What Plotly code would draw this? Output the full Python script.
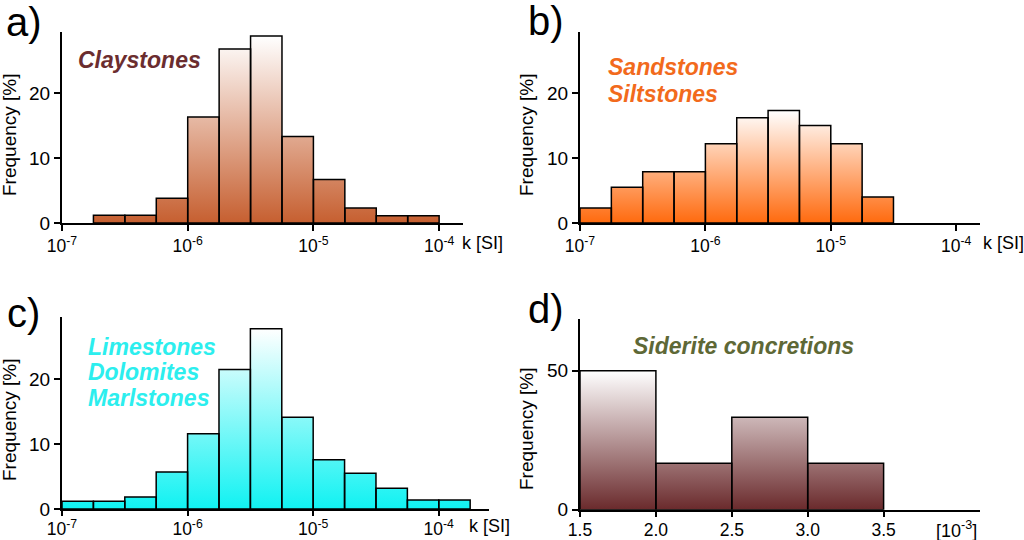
import plotly.graph_objects as go

# ---------------- data ----------------
# log10(k) left bin edges (quarter decades) and frequencies [%]
log_bin_width = 0.25

a_bin_left = [-6.75, -6.5, -6.25, -6.0, -5.75, -5.5, -5.25, -5.0, -4.75, -4.5, -4.25]
a_freq = [1.2, 1.2, 3.8, 16.3, 26.8, 28.8, 13.3, 6.7, 2.3, 1.1, 1.1]

b_bin_left = [-7.0, -6.75, -6.5, -6.25, -6.0, -5.75, -5.5, -5.25, -5.0, -4.75]
b_freq = [2.3, 5.5, 7.9, 7.9, 12.2, 16.2, 17.3, 15.0, 12.2, 4.0]

c_bin_left = [-7.0, -6.75, -6.5, -6.25, -6.0, -5.75, -5.5, -5.25, -5.0, -4.75, -4.5, -4.25, -4.0]
c_freq = [1.2, 1.2, 1.85, 5.7, 11.6, 21.5, 27.8, 14.15, 7.6, 5.5, 3.2, 1.4, 1.4]

d_bin_left = [1.5, 2.0, 2.5, 3.0]
d_bin_width = 0.5
d_freq = [50.0, 16.7, 33.3, 16.7]

log_tick_vals = [1e-7, 1e-6, 1e-5, 1e-4]
log_tick_text = ["10<sup>-7</sup>", "10<sup>-6</sup>", "10<sup>-5</sup>", "10<sup>-4</sup>"]
d_tick_vals = [1.5, 2.0, 2.5, 3.0, 3.5]
freq_ticks_small = [0, 10, 20]
freq_ticks_d = [0, 50]

panel_letters = ["a)", "b)", "c)", "d)"]
titles_a = ["Claystones"]
titles_b = ["Sandstones", "Siltstones"]
titles_c = ["Limestones", "Dolomites", "Marlstones"]
titles_d = ["Siderite concretions"]

FONT = "Liberation Sans, Arial, sans-serif"
W, H = 1024, 540


def px(x):
    return x / W


def py(y):
    return 1 - y / H


def hist_polygons(left, width, freq, log=False):
    xs, ys = [], []
    for l, f in zip(left, freq):
        r = l + width
        if log:
            l0, r0 = 10 ** l, 10 ** r
        else:
            l0, r0 = l, r
        xs += [l0, l0, r0, r0, l0, None]
        ys += [0, f, f, 0, 0, None]
    return xs, ys


fig = go.Figure()

panels = [
    dict(n="", left=a_bin_left, w=log_bin_width, f=a_freq, log=True, col="#C65F30"),
    dict(n="2", left=b_bin_left, w=log_bin_width, f=b_freq, log=True, col="#FF6A0E"),
    dict(n="3", left=c_bin_left, w=log_bin_width, f=c_freq, log=True, col="#10F2F2"),
    dict(n="4", left=d_bin_left, w=d_bin_width, f=d_freq, log=False, col="#6A2A2C"),
]

for p in panels:
    xs, ys = hist_polygons(p["left"], p["w"], p["f"], p["log"])
    fig.add_trace(go.Scatter(
        x=xs, y=ys, mode="lines", fill="toself",
        line=dict(color="black", width=1.5),
        fillgradient=dict(type="vertical",
                          colorscale=[[0, p["col"]], [1, "#FFFFFF"]],
                          start=0, stop=max(p["f"])),
        xaxis="x" + p["n"], yaxis="y" + p["n"],
        hoverinfo="skip", showlegend=False,
    ))

axis_common = dict(showline=True, linewidth=2, linecolor="black", ticks="outside",
                   ticklen=6, tickwidth=2, tickcolor="black", showgrid=False,
                   zeroline=False, automargin=False,
                   tickfont=dict(family=FONT, size=18, color="black"))
yfont = dict(family=FONT, size=19, color="black")
xfont = dict(family=FONT, size=17.5, color="black")

layout = dict(
    template="none",
    font=dict(family=FONT, color="black"),
    width=W, height=H, margin=dict(l=0, r=0, t=0, b=0, pad=0),
    paper_bgcolor="white", plot_bgcolor="white", showlegend=False,
    xaxis=dict(axis_common, type="log", range=[-7, -3.81], domain=[px(62), px(463)],
               anchor="y", tickmode="array", tickvals=log_tick_vals, ticktext=log_tick_text,
               tickfont=xfont),
    yaxis=dict(axis_common, range=[0, 29.4], domain=[py(223), py(32)], anchor="x",
               tickmode="array", tickvals=freq_ticks_small, tickfont=yfont),
    xaxis2=dict(axis_common, type="log", range=[-7, -3.81], domain=[px(580), px(980)],
                anchor="y2", tickmode="array", tickvals=log_tick_vals, ticktext=log_tick_text,
                tickfont=xfont),
    yaxis2=dict(axis_common, range=[0, 29.4], domain=[py(223), py(32)], anchor="x2",
                tickmode="array", tickvals=freq_ticks_small, tickfont=yfont),
    xaxis3=dict(axis_common, type="log", range=[-7, -3.60], domain=[px(62), px(489)],
                anchor="y3", tickmode="array", tickvals=log_tick_vals, ticktext=log_tick_text,
                tickfont=xfont, ticklen=5, ticklabelstandoff=-2),
    yaxis3=dict(axis_common, range=[0, 29.6], domain=[py(509), py(317)], anchor="x3",
                tickmode="array", tickvals=freq_ticks_small, tickfont=yfont),
    xaxis4=dict(axis_common, range=[1.5, 4.135], domain=[px(580), px(980)],
                anchor="y4", tickmode="array", tickvals=d_tick_vals, tickformat=".1f",
                tickfont=xfont, ticklen=5, ticklabelstandoff=-2),
    yaxis4=dict(axis_common, range=[0, 68.6], domain=[py(509.7), py(319)], anchor="x4",
                tickmode="array", tickvals=freq_ticks_d, tickfont=yfont),
)
fig.update_layout(**layout)

ann = []
# panel letters
for letter, (x, y) in zip(panel_letters, [(24, 22), (546, 21), (23, 313), (546, 309)]):
    ann.append(dict(text=letter, x=px(x), y=py(y), xref="paper", yref="paper",
                    xanchor="center", yanchor="middle", showarrow=False,
                    font=dict(family=FONT, size=40, color="black")))

# y-axis titles
for (x, y) in [(9, 135), (526, 135), (9, 420), (526, 429)]:
    ann.append(dict(text="Frequency [%]", x=px(x), y=py(y), xref="paper", yref="paper",
                    xanchor="center", yanchor="middle", textangle=-90, showarrow=False,
                    font=dict(family=FONT, size=19, color="black")))

# x-axis unit labels
for txt, (x, y) in [("k [SI]", (482, 243)), ("k [SI]", (1003, 243)),
                    ("k [SI]", (489, 526)), ("[10<sup>-3</sup>]", (956, 529))]:
    ann.append(dict(text=txt, x=px(x), y=py(y), xref="paper", yref="paper",
                    xanchor="center", yanchor="middle", showarrow=False,
                    font=dict(family=FONT, size=18, color="black")))


def add_titles(lines, x, ys, color):
    for t, y in zip(lines, ys):
        ann.append(dict(text=t, x=px(x), y=py(y), xref="paper", yref="paper",
                        xanchor="left", yanchor="middle", showarrow=False,
                        font=dict(family=FONT, size=23, color=color,
                                  weight="bold", style="italic")))


add_titles(titles_a, 76, [60], "#6B2D2F")
add_titles(titles_b, 606, [67, 94], "#F26A1C")
add_titles(titles_c, 86, [347, 372, 398], "#2CEEEE")
add_titles(titles_d, 631, [346], "#5E6836")

fig.update_layout(annotations=ann)
fig.write_html("out.html",
               config={"displayModeBar": False},
               post_script="document.body.style.margin='0px';document.body.style.overflow='hidden';")
